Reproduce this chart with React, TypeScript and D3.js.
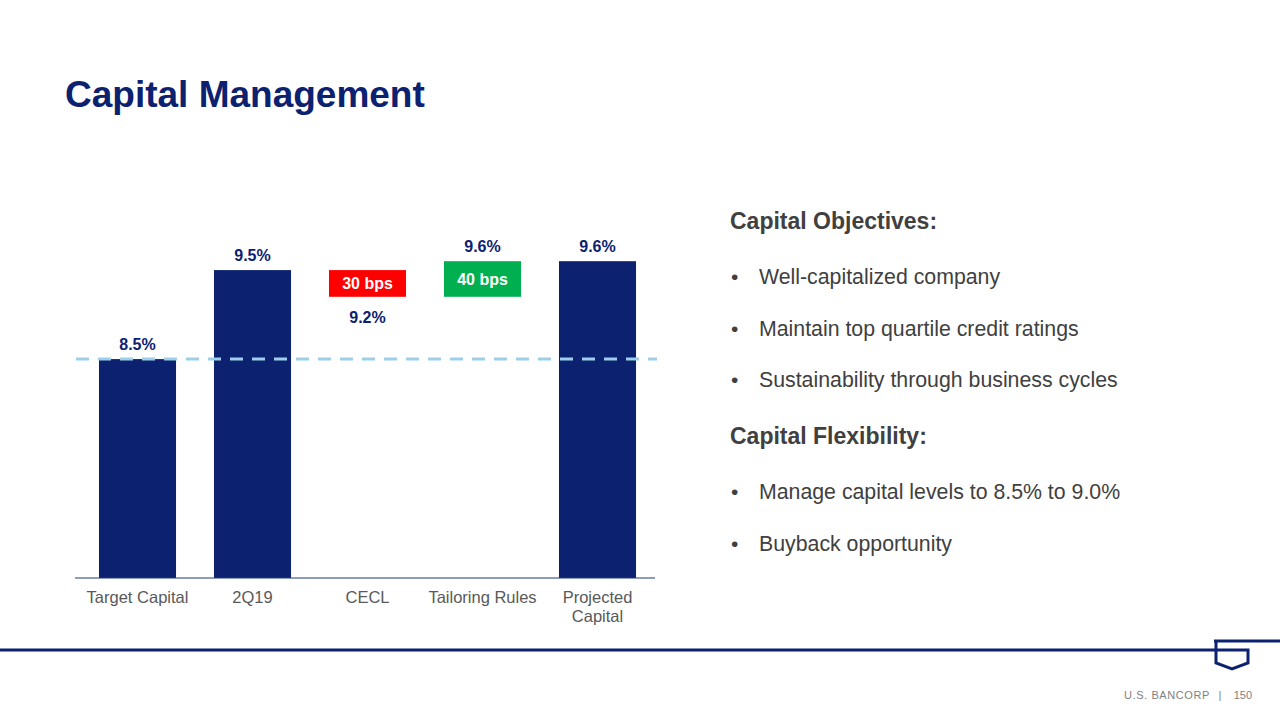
import React from "react";
import * as d3 from "d3";

const categories = ["Target Capital", "2Q19", "CECL", "Tailoring Rules", "Projected Capital"];
const categoryLines = [["Target Capital"], ["2Q19"], ["CECL"], ["Tailoring Rules"], ["Projected", "Capital"]];
// totals (full bars) and deltas (floating bars) in %
const totals: (number | null)[] = [8.5, 9.5, null, null, 9.6];
const deltas: (number | null)[] = [null, null, -0.3, 0.4, null];
const deltaLabels = ["", "", "30 bps", "40 bps", ""];
const valueLabels = ["8.5%", "9.5%", "9.2%", "9.6%", "9.6%"];
const targetLevel = 8.5;

const objectives = ["Well-capitalized company", "Maintain top quartile credit ratings", "Sustainability through business cycles"];
const flexibility = ["Manage capital levels to 8.5% to 9.0%", "Buyback opportunity"];

const NAVY = "#0C2170";
const TEXT = "#404040";
const FONT = "Liberation Sans, Arial, sans-serif";

export default function App() {
  const x = d3.scaleBand<string>().domain(categories).range([80, 655]).paddingInner(0.33).paddingOuter(0.165);
  const y = d3.scaleLinear().domain([6.04, 10]).range([578, 225.6]);
  const baseY = y(6.04);

  // compute waterfall segments
  let running = 0;
  const segs = categories.map((c, i) => {
    if (totals[i] != null) {
      running = totals[i] as number;
      return { c, i, lo: 6.04, hi: running, type: "total", end: running };
    }
    const d = deltas[i] as number;
    const start = running;
    running = +(running + d).toFixed(4);
    return { c, i, lo: Math.min(start, running), hi: Math.max(start, running), type: d < 0 ? "neg" : "pos", end: running };
  });

  const bw = x.bandwidth();

  return (
    <svg width={1280} height={720} style={{ position: "absolute", left: 0, top: 0, background: "#fff" }} fontFamily={FONT}>
      <rect width={1280} height={720} fill="#fff" />
      <text x={65} y={107} fontSize={37} fontWeight="bold" fill={NAVY}>Capital Management</text>

      {segs.map((s) => {
        const x0 = x(s.c)!;
        const fill = s.type === "total" ? NAVY : s.type === "neg" ? "#FF0000" : "#00B050";
        const top = y(s.hi);
        const bot = s.type === "total" ? baseY : y(s.lo);
        return (
          <g key={s.c}>
            <rect x={x0} y={top} width={bw} height={bot - top} fill={fill} />
            {s.type !== "total" && (
              <text x={x0 + bw / 2} y={(top + bot) / 2} dy="0.35em" textAnchor="middle" fontSize={16} fontWeight="bold" fill="#fff">
                {deltaLabels[s.i]}
              </text>
            )}
            {s.type === "neg" ? (
              <text x={x0 + bw / 2} y={bot + 26} textAnchor="middle" fontSize={16} fontWeight="bold" fill={NAVY}>
                {valueLabels[s.i]}
              </text>
            ) : (
              <text x={x0 + bw / 2} y={top - 9} textAnchor="middle" fontSize={16} fontWeight="bold" fill={NAVY}>
                {valueLabels[s.i]}
              </text>
            )}
          </g>
        );
      })}

      <line x1={75} x2={655} y1={baseY} y2={baseY} stroke="#1F3A7A" strokeWidth={1} />
      <line x1={76} x2={657} y1={y(targetLevel)} y2={y(targetLevel)} stroke="#9DCFEA" strokeWidth={3} strokeDasharray="13 9" />

      {categoryLines.map((lines, i) => (
        <text key={i} x={x(categories[i])! + bw / 2} y={603} textAnchor="middle" fontSize={16.5} fill="#595959">
          {lines.map((l, j) => (
            <tspan key={j} x={x(categories[i])! + bw / 2} dy={j === 0 ? 0 : 19}>{l}</tspan>
          ))}
        </text>
      ))}

      <text x={730} y={229} fontSize={23} fontWeight="bold" fill={TEXT}>Capital Objectives:</text>
      {objectives.map((t, i) => (
        <g key={t}>
          <text x={731} y={284 + i * 51.5} fontSize={21} fill={TEXT}>•</text>
          <text x={759} y={284 + i * 51.5} fontSize={21.3} fill={TEXT}>{t}</text>
        </g>
      ))}
      <text x={730} y={444} fontSize={23} fontWeight="bold" fill={TEXT}>Capital Flexibility:</text>
      {flexibility.map((t, i) => (
        <g key={t}>
          <text x={731} y={499 + i * 51.5} fontSize={21} fill={TEXT}>•</text>
          <text x={759} y={499 + i * 51.5} fontSize={21.3} fill={TEXT}>{t}</text>
        </g>
      ))}

      {/* footer rule & logo */}
      <line x1={0} x2={1216} y1={650} y2={650} stroke={NAVY} strokeWidth={3} />
      <line x1={1214} x2={1280} y1={641} y2={641} stroke={NAVY} strokeWidth={3} />
      <path d="M1216,641 L1216,663 L1232,669 L1248,663 L1248,650 L1216,650" fill="none" stroke={NAVY} strokeWidth={3} />

      <text x={1210} y={699} textAnchor="end" fontSize={11} letterSpacing={0.6} fill="#7F7F7F">U.S. BANCORP</text>
      <text x={1220} y={699} textAnchor="middle" fontSize={11} fill="#7F7F7F">|</text>
      <text x={1252} y={699} textAnchor="end" fontSize={11} fill="#7F7F7F">150</text>
    </svg>
  );
}
